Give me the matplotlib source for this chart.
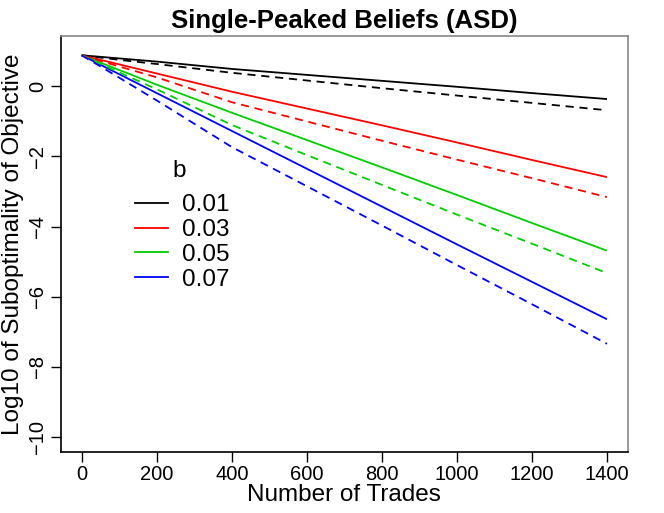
import matplotlib
matplotlib.use("Agg")
import matplotlib.pyplot as plt
from matplotlib.lines import Line2D

plt.rcParams['font.family'] = ['Liberation Sans', 'DejaVu Sans']

trades = [0, 100, 200, 400, 600, 800, 1000, 1200, 1400]
b_values = ["0.01", "0.03", "0.05", "0.07"]
colors = ["black", "red", "#00CC00", "blue"]

solid_series = [
    [0.89, 0.80, 0.71, 0.50, 0.33, 0.16, -0.01, -0.19, -0.36],
    [0.89, 0.63, 0.37, -0.15, -0.63, -1.11, -1.60, -2.10, -2.59],
    [0.89, 0.47, 0.05, -0.75, -1.53, -2.31, -3.10, -3.90, -4.69],
    [0.89, 0.35, -0.19, -1.27, -2.35, -3.43, -4.51, -5.58, -6.65],
]
dashed_series = [
    [0.89, 0.76, 0.64, 0.39, 0.17, -0.05, -0.26, -0.47, -0.68],
    [0.89, 0.57, 0.26, -0.45, -1.00, -1.55, -2.09, -2.62, -3.16],
    [0.89, 0.40, -0.08, -1.10, -1.96, -2.81, -3.66, -4.49, -5.33],
    [0.89, 0.25, -0.40, -1.73, -2.85, -3.97, -5.10, -6.22, -7.35],
]

x_ticks = [0, 200, 400, 600, 800, 1000, 1200, 1400]
y_ticks = [0, -2, -4, -6, -8, -10]

fig = plt.figure(figsize=(6.64, 5.13), dpi=100)
ax = fig.add_axes([0.0914, 0.1189, 0.9458 - 0.0914, 0.9298 - 0.1189])

lw = 1.3
for ys, c in zip(solid_series, colors):
    ax.plot(trades, ys, color=c, lw=lw, solid_capstyle='butt')
for ys, c in zip(dashed_series, colors):
    ax.plot(trades, ys, color=c, lw=lw, linestyle=(0, (4.5, 3.2)), dash_capstyle='butt')

ax.set_xlim(-56, 1456)
ax.set_ylim(-10.44, 1.44)
ax.set_xticks(x_ticks)
ax.set_xticklabels([str(t) for t in x_ticks], fontsize=14.5)
ax.set_yticks(y_ticks)
ax.set_yticklabels(["0", "\u22122", "\u22124", "\u22126", "\u22128", "\u221210"],
                   fontsize=14.5, rotation=90, va='center')
ax.tick_params(direction='out', length=7, width=1, pad=3)
ax.tick_params(axis='x', pad=2)

for s in ['top', 'right']:
    ax.spines[s].set_color('#888888')
for s in ['left', 'bottom']:
    ax.spines[s].set_color('black')
for s in ax.spines.values():
    s.set_linewidth(1.2)

ax.set_xlabel("Number of Trades", fontsize=17.5, labelpad=0)
ax.set_ylabel("Log10 of Suboptimality of Objective", fontsize=17.5, labelpad=3)
ax.set_title("Single-Peaked Beliefs (ASD)", fontsize=18.5, fontweight='bold', pad=6)

handles = [Line2D([0], [0], color=c, lw=lw) for c in colors]
leg = ax.legend(handles, b_values, loc='upper left',
                bbox_to_anchor=(0.131, 0.620), frameon=False, fontsize=17.5,
                handlelength=1.35, handletextpad=0.6, borderpad=0,
                labelspacing=0.12, borderaxespad=0)
ax.text(0.2085, 0.675, "b", transform=ax.transAxes, fontsize=17.5,
        ha='center', va='center')

fig.savefig("out.png", dpi=100)
